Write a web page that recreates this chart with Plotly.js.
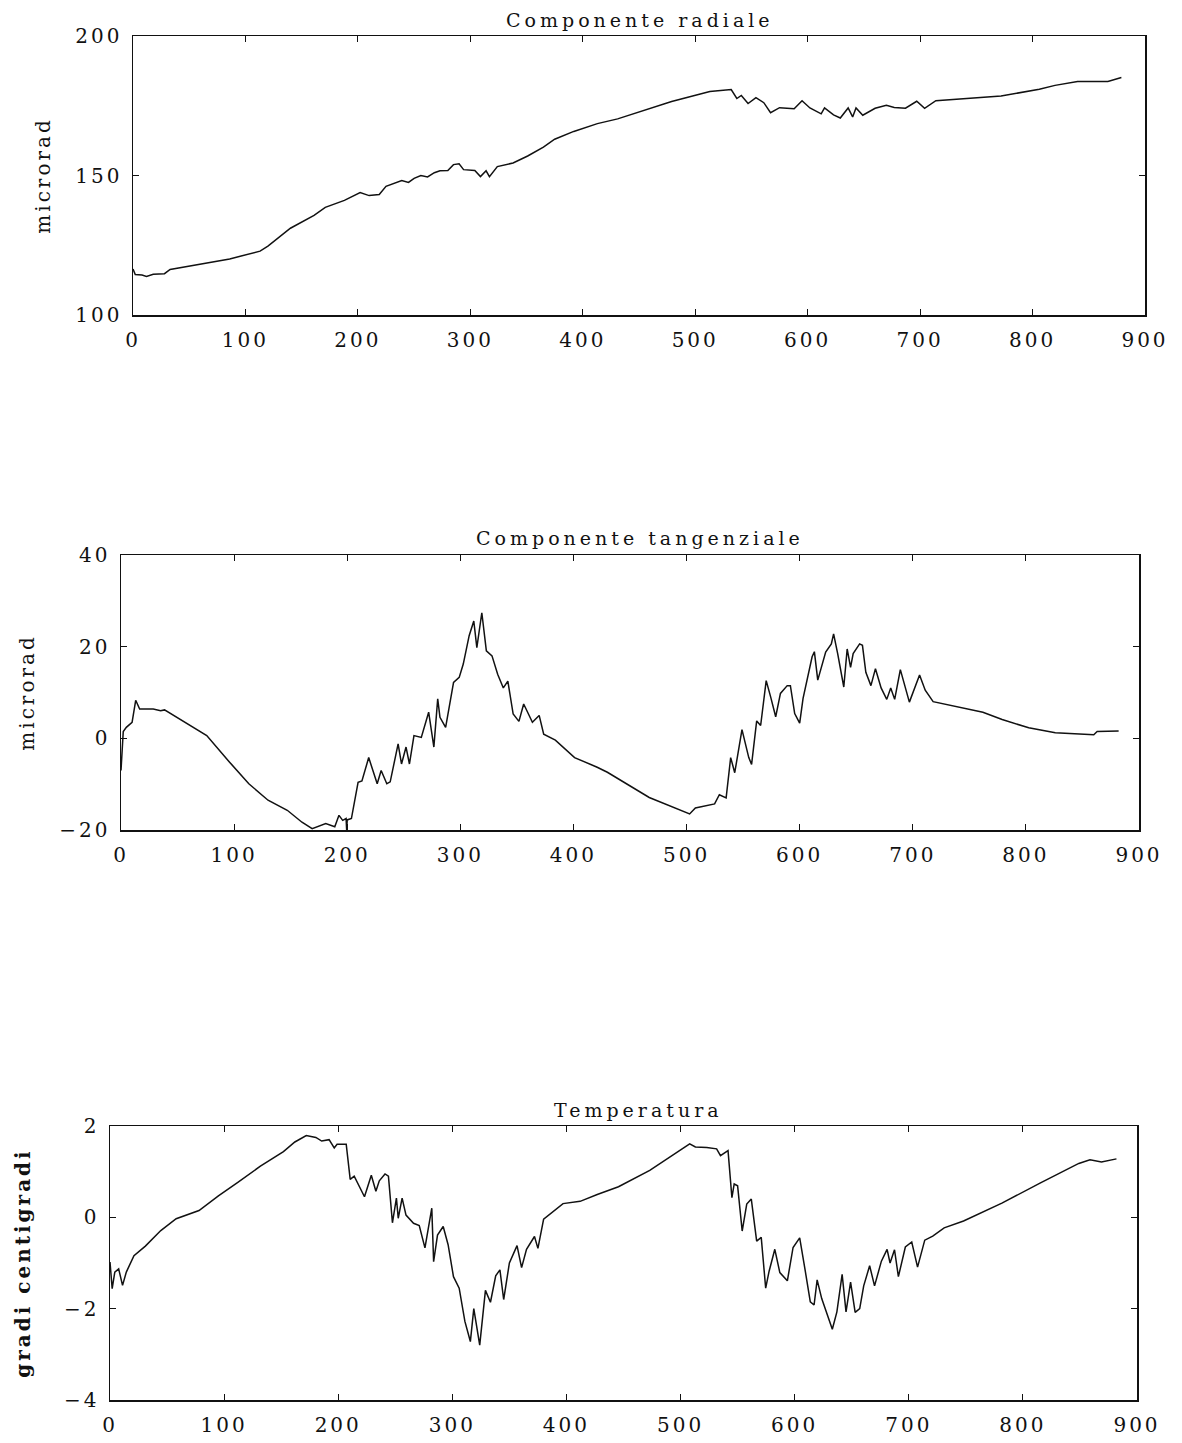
<!DOCTYPE html>
<html><head><meta charset="utf-8">
<script src="https://cdn.plot.ly/plotly-3.0.1.min.js"></script>
<style>
html,body{margin:0;padding:0;background:#fff;}
#chart{width:1182px;height:1443px;}
.main-svg text{letter-spacing:3px;}
.main-svg .annotation-text{letter-spacing:4px;}
</style></head><body><div id="chart"></div>
<script>
// ---- Data ----
const xTicks = [0, 100, 200, 300, 400, 500, 600, 700, 800, 900];
const radTicks = [100, 150, 200];
const tanTicks = [-20, 0, 20, 40];
const tempTicks = [-4, -2, 0, 2];

const radX = [0, 2, 8, 12, 18, 28, 33, 45, 59, 86,
 113, 120, 140, 161, 171, 188, 202, 210, 219, 225,
 239, 245, 250, 256, 262, 268, 273, 280, 285, 290,
 294, 304, 309, 314, 317, 324, 338, 351, 365, 375,
 392, 413, 431, 479, 513, 532, 537, 541, 547, 554,
 561, 567, 575, 588, 595, 602, 612, 615, 623, 629,
 636, 640, 643, 649, 660, 670, 677, 687, 697, 704,
 714, 738, 772, 806, 820, 840, 857, 867, 879];
const radY = [116.5, 114.5, 114.3, 113.8, 114.6, 114.8, 116.3, 117.2, 118, 120.1,
 122.9, 124.7, 131.1, 135.7, 138.6, 141.1, 143.9, 142.8, 143.2, 146.1,
 148.2, 147.5, 149, 150, 149.5, 151, 151.7, 151.8, 153.9, 154.2,
 152.1, 151.8, 149.6, 151.7, 149.6, 153.2, 154.5, 157, 160.2, 163,
 165.8, 168.6, 170.3, 176.5, 180.1, 180.8, 177.6, 178.7, 175.8, 177.9,
 176.1, 172.5, 174.3, 173.9, 176.8, 174.2, 172.1, 174.2, 171.7, 170.6,
 174.2, 171, 174.2, 171.6, 174.1, 175.2, 174.4, 174.1, 176.6, 174.1,
 176.8, 177.5, 178.5, 180.9, 182.3, 183.7, 183.7, 183.7, 185.1];

const tanX = [0, 1, 2, 4.7, 9.8, 13, 16.5, 28.5, 35, 38.5,
 55.5, 75.8, 96, 113, 130, 147, 160, 169, 181, 189,
 192.7, 196, 199, 199.5, 200, 203.7, 209.6, 213, 219, 226.5,
 230, 235, 238, 245, 248, 252, 255, 259, 265.5, 272,
 276.6, 280, 282, 287, 294, 299, 302.6, 307.8, 311.9, 314.6,
 319, 323, 328, 333, 338, 342, 346.7, 351.8, 356, 363.7,
 369.7, 373.7, 384, 401, 421, 430, 467, 502.7, 507.8, 524.8,
 529, 535, 539, 542.6, 549, 555, 557.5, 562, 565.5, 570.4,
 574.4, 578.8, 583, 589, 591.8, 595.6, 600, 603, 611, 613,
 616, 619, 623, 628, 630, 633.6, 639, 642, 645, 647.3,
 653, 655.5, 658.5, 663, 667, 672, 677, 680.5, 684, 689,
 697, 706, 711, 718, 745, 762, 779, 802.5, 826, 860,
 863, 882];
const tanY = [-7, -1, 1.5, 2.4, 3.5, 8.3, 6.4, 6.4, 6.0, 6.2,
 3.7, 0.6, -5.2, -9.9, -13.5, -15.7, -18.3, -19.7, -18.6, -19.3,
 -16.8, -17.9, -17.5, -20, -17.8, -17.5, -9.6, -9.3, -4.2, -9.9,
 -7, -9.9, -9.5, -1.2, -5.6, -1.9, -5.6, 0.6, 0.2, 5.7,
 -1.9, 8.6, 4.6, 2.4, 12.2, 13.3, 16.2, 22.4, 25.6, 19.8,
 27.4, 19.1, 18, 14, 11, 12.5, 5.3, 3.7, 7.5, 3.5,
 5, 0.9, -0.4, -4.2, -6.3, -7.4, -12.9, -16.5, -15.2, -14.3,
 -12.3, -13, -4.2, -7.5, 1.9, -4.2, -5.7, 3.8, 2.8, 12.6,
 9, 4.7, 9.8, 11.5, 11.5, 5.4, 3.3, 8.7, 17.8, 18.9,
 12.7, 15.6, 18.8, 20.6, 22.8, 18.5, 11.2, 19.5, 15.5, 18.5,
 20.6, 20.3, 14.4, 11.5, 15.2, 11, 8.5, 11, 8.5, 15,
 7.9, 13.8, 10.5, 8, 6.6, 5.7, 4.1, 2.3, 1.2, 0.8,
 1.5, 1.6];

const tempX = [0, 1.9, 4.2, 7.6, 11, 14.3, 21, 31, 44.5, 58,
 78, 95, 111.7, 131.8, 152, 162, 172, 180.4, 185.5, 192,
 196.5, 199, 207, 210.5, 214, 217.4, 223, 229, 233, 236,
 241, 244, 247.5, 251, 252.6, 256, 259.4, 266, 271, 276,
 282, 283.6, 287, 292, 296.3, 301, 306, 311, 315.8, 318.8,
 324, 329, 333.4, 338, 341.7, 345, 350, 356.7, 360.7, 365,
 372, 375, 380, 397, 412, 427, 445.6, 473, 493, 508,
 513, 523, 531.6, 535, 541.6, 545, 547, 550, 554, 558,
 562, 566.7, 570.7, 574.6, 577.6, 582.6, 587, 593.6, 598.6, 604.4,
 608.8, 613.7, 617, 619.7, 623.7, 628.8, 633, 637, 641.6, 645,
 649, 653, 657, 660.5, 665.7, 670, 676, 681, 683.6, 687.5,
 690.9, 697, 702.6, 707.7, 714, 721, 731, 748, 781.6, 815,
 849, 858.8, 868.9, 882];
const tempY = [-0.98, -1.56, -1.2, -1.13, -1.49, -1.2, -0.84, -0.63, -0.29, -0.03,
 0.15, 0.47, 0.76, 1.12, 1.44, 1.65, 1.79, 1.75, 1.67, 1.7,
 1.52, 1.6, 1.6, 0.83, 0.9, 0.73, 0.45, 0.92, 0.57, 0.8,
 0.95, 0.9, -0.12, 0.42, -0.02, 0.42, 0.05, -0.13, -0.18, -0.67,
 0.2, -0.97, -0.39, -0.2, -0.6, -1.3, -1.55, -2.28, -2.72, -2.0,
 -2.8, -1.6, -1.86, -1.28, -1.15, -1.8, -1.0, -0.62, -1.1, -0.7,
 -0.42, -0.68, -0.04, 0.3, 0.35, 0.5, 0.67, 1.03, 1.36, 1.61,
 1.54, 1.53, 1.5, 1.35, 1.46, 0.43, 0.73, 0.69, -0.3, 0.29,
 0.4, -0.52, -0.44, -1.55, -1.18, -0.7, -1.21, -1.39, -0.66, -0.45,
 -1.1, -1.85, -1.92, -1.37, -1.78, -2.15, -2.45, -2.07, -1.25, -2.07,
 -1.42, -2.08, -2.0, -1.5, -1.06, -1.5, -0.96, -0.7, -1.0, -0.71,
 -1.3, -0.65, -0.54, -1.09, -0.5, -0.41, -0.23, -0.08, 0.31, 0.75,
 1.18, 1.26, 1.21, 1.28];

const titles = ['Componente radiale', 'Componente tangenziale', 'Temperatura'];
const yTitles = ['microrad', 'microrad', 'gradi centigradi'];

// ---- Layout (pixel geometry of the reference) ----
const W = 1182, H = 1443;
const ink = '#111';
const font = {family: 'DejaVu Serif, serif', size: 20, color: ink};
function xd(l, r) { return [l / W, r / W]; }
function yd(t, b) { return [1 - b / H, 1 - t / H]; }

function xaxis(dom, anchor) {
  return {domain: dom, anchor: anchor, range: [0, 900], tickvals: xTicks,
    showline: true, linecolor: ink, linewidth: 1.5, mirror: 'ticks',
    ticks: 'inside', ticklen: 6, tickwidth: 1.2, tickcolor: ink,
    showgrid: false, zeroline: false, tickfont: font, ticklabelstandoff: 6,
    automargin: false, fixedrange: true};
}
function yaxis(dom, anchor, range, ticks, title, bold, standoff) {
  return {domain: dom, anchor: anchor, range: range, tickvals: ticks,
    showline: true, linecolor: ink, linewidth: 1.5, mirror: 'ticks',
    ticks: 'inside', ticklen: 6, tickwidth: 1.2, tickcolor: ink,
    showgrid: false, zeroline: false, tickfont: font, ticklabelstandoff: 5,
    automargin: false, fixedrange: true,
    title: {text: title, standoff: standoff,
      font: {family: 'DejaVu Serif, serif', size: 20, color: ink, weight: bold ? 'bold' : 'normal'}}};
}

const line = {color: ink, width: 1.5};
const data = [
  {x: radX, y: radY, xaxis: 'x', yaxis: 'y', type: 'scatter', mode: 'lines', line: line, hoverinfo: 'skip'},
  {x: tanX, y: tanY, xaxis: 'x2', yaxis: 'y2', type: 'scatter', mode: 'lines', line: line, hoverinfo: 'skip'},
  {x: tempX, y: tempY, xaxis: 'x3', yaxis: 'y3', type: 'scatter', mode: 'lines', line: line, hoverinfo: 'skip'}
];

const titleFont = {family: 'DejaVu Serif, serif', size: 19, color: ink};
const layout = {
  width: W, height: H, margin: {l: 0, r: 0, t: 0, b: 0},
  paper_bgcolor: '#fff', plot_bgcolor: '#fff', showlegend: false,
  font: font,
  xaxis: xaxis(xd(133, 1145), 'y'),
  yaxis: yaxis(yd(36, 315), 'x', [100, 200], radTicks, yTitles[0], false, 28),
  xaxis2: xaxis(xd(121, 1139), 'y2'),
  yaxis2: yaxis(yd(555, 830), 'x2', [-20, 40], tanTicks, yTitles[1], false, 28),
  xaxis3: xaxis(xd(110, 1137), 'y3'),
  yaxis3: yaxis(yd(1126, 1400), 'x3', [-4, 2], tempTicks, yTitles[2], true, 34),
  annotations: [
    {text: titles[0], xref: 'paper', yref: 'paper', x: 640 / W, y: 1 - 20 / H, xanchor: 'center', yanchor: 'middle', showarrow: false, font: titleFont},
    {text: titles[1], xref: 'paper', yref: 'paper', x: 640 / W, y: 1 - 538 / H, xanchor: 'center', yanchor: 'middle', showarrow: false, font: titleFont},
    {text: titles[2], xref: 'paper', yref: 'paper', x: 638 / W, y: 1 - 1110 / H, xanchor: 'center', yanchor: 'middle', showarrow: false, font: titleFont}
  ]
};

Plotly.newPlot('chart', data, layout, {staticPlot: true, displayModeBar: false});
</script></body></html>
